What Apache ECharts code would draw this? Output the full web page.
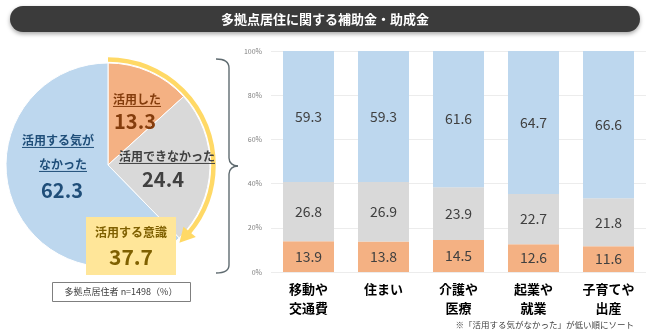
<!DOCTYPE html>
<html>
<head>
<meta charset="utf-8">
<script src="https://cdn.jsdelivr.net/npm/echarts@6/dist/echarts.min.js"></script>
<style>
  html, body { margin: 0; padding: 0; background: #fff; }
  #chart { width: 650px; height: 333px; }
</style>
</head>
<body>
<div id="chart"></div>
<script>
// 多拠点居住者の補助金・助成金の活用状況
const titleText = '多拠点居住に関する補助金・助成金';
const pieNames = ['活用した', '活用できなかった', '活用する気がなかった'];
const pieValues = [13.3, 24.4, 62.3];
const intentLabel = '活用する意識';
const sampleNote = '多拠点居住者 n=1498（%）';

const categories = ['移動や\n交通費', '住まい', '介護や\n医療', '起業や\n就業', '子育てや\n出産'];
const usedValues = [13.9, 13.8, 14.5, 12.6, 11.6];
const couldNotValues = [26.8, 26.9, 23.9, 22.7, 21.8];
const noIntentValues = [59.3, 59.3, 61.6, 64.7, 66.6];
const yTickValues = [0, 20, 40, 60, 80, 100];
const footnote = '※「活用する気がなかった」が低い順にソート';

const FONT = '"Noto Sans CJK JP", "Noto Sans", sans-serif';
const C_ORANGE = '#F4B183', C_GRAY = '#D9D9D9', C_BLUE = '#BDD7EE';
const T_ORANGE = '#843C0C', T_GRAY = '#404040', T_BLUE = '#1F4E79', T_YELLOW = '#7F6000';

const pieCx = 108, pieCy = 165, pieR = 102;

const measureCtx = document.createElement('canvas').getContext('2d');
function textWidth(str, font) { measureCtx.font = font; return measureCtx.measureText(str).width; }

const graphics = [];

// title bar
graphics.push({
  type: 'rect', shape: { x: 10, y: 6, width: 630, height: 26, r: 13 },
  style: { fill: '#3b3b3b', shadowBlur: 4, shadowOffsetY: 2, shadowColor: 'rgba(0,0,0,0.35)' }, z: 10
});
graphics.push({
  type: 'text', z: 11,
  style: { text: titleText, x: 325, y: 19, textAlign: 'center', textVerticalAlign: 'middle',
           font: 'bold 13px ' + FONT, fill: '#fff' }
});

// underlined caption helper
function caption(str, x, y, color, size) {
  const font = 'bold ' + size + 'px ' + FONT;
  const w = textWidth(str, font);
  graphics.push({ type: 'text', z: 20,
    style: { text: str, x: x, y: y, textAlign: 'center', textVerticalAlign: 'middle', font: font, fill: color } });
  graphics.push({ type: 'line', z: 20,
    shape: { x1: x - w / 2, y1: y + size * 0.62, x2: x + w / 2, y2: y + size * 0.62 },
    style: { stroke: color, lineWidth: 1 } });
}
function bigNumber(val, x, y, color, size) {
  graphics.push({ type: 'text', z: 20,
    style: { text: val.toFixed(1), x: x, y: y, textAlign: 'center', textVerticalAlign: 'middle',
             font: 'bold ' + size + 'px ' + FONT, fill: color } });
}

caption(pieNames[0], 137, 99, T_ORANGE, 12);
bigNumber(pieValues[0], 135, 121, T_ORANGE, 20);
caption(pieNames[1], 167, 156, T_GRAY, 12);
bigNumber(pieValues[1], 163, 179, T_GRAY, 20);
caption(pieNames[2].slice(0, 6), 58, 140, T_BLUE, 12);
caption(pieNames[2].slice(6), 63, 164, T_BLUE, 12);
bigNumber(pieValues[2], 62, 190, T_BLUE, 20);

// arc with arrow spanning the "intent" share
const intentValue = pieValues[0] + pieValues[1];
const total = pieValues.reduce((a, b) => a + b, 0);
const arcR = 105.5;
const a0 = -Math.PI / 2;
const aTip = a0 + 2 * Math.PI * intentValue / total + 0.03;
const arrowLen = 15, arrowHalf = 8;
const aBase = aTip - arrowLen / arcR;
graphics.push({ type: 'arc', z: 15,
  shape: { cx: pieCx, cy: pieCy, r: arcR, startAngle: a0, endAngle: aBase + 0.01, clockwise: true },
  style: { stroke: '#FFD966', lineWidth: 4.5, fill: null } });
const tipX = pieCx + arcR * Math.cos(aTip), tipY = pieCy + arcR * Math.sin(aTip);
const bx = pieCx + arcR * Math.cos(aBase), by = pieCy + arcR * Math.sin(aBase);
const rx = Math.cos(aBase), ry = Math.sin(aBase);
graphics.push({ type: 'polygon', z: 15,
  shape: { points: [[tipX, tipY], [bx + rx * arrowHalf, by + ry * arrowHalf], [bx - rx * arrowHalf, by - ry * arrowHalf]] },
  style: { fill: '#FFD966' } });

// intent box
graphics.push({ type: 'rect', z: 18, shape: { x: 86, y: 217, width: 90, height: 58 }, style: { fill: '#FFE699' } });
graphics.push({ type: 'text', z: 19,
  style: { text: intentLabel, x: 131, y: 232, textAlign: 'center', textVerticalAlign: 'middle',
           font: 'bold 12px ' + FONT, fill: T_YELLOW } });
bigNumber(intentValue, 131, 257, T_YELLOW, 21);

// sample note
graphics.push({ type: 'rect', z: 18, shape: { x: 52.5, y: 282.5, width: 138, height: 19 },
  style: { fill: '#fff', stroke: '#7f7f7f', lineWidth: 1 } });
graphics.push({ type: 'text', z: 19,
  style: { text: sampleNote, x: 121, y: 292, textAlign: 'center', textVerticalAlign: 'middle',
           font: '9px ' + FONT, fill: '#404040' } });

// brace
const braceStyle = { stroke: '#5f6b70', lineWidth: 1.4, fill: null };
const bxL = 229;
graphics.push({ type: 'bezierCurve', z: 15, shape: { x1: 216, y1: 59, cpx1: 224, cpy1: 59, cpx2: bxL, cpy2: 62, x2: bxL, y2: 68 }, style: braceStyle });
graphics.push({ type: 'line', z: 15, shape: { x1: bxL, y1: 68, x2: bxL, y2: 158 }, style: braceStyle });
graphics.push({ type: 'bezierCurve', z: 15, shape: { x1: bxL, y1: 158, cpx1: bxL, cpy1: 163, cpx2: 233, cpy2: 166, x2: 238, y2: 166 }, style: braceStyle });
graphics.push({ type: 'bezierCurve', z: 15, shape: { x1: 238, y1: 166, cpx1: 233, cpy1: 166, cpx2: bxL, cpy2: 169, x2: bxL, y2: 174 }, style: braceStyle });
graphics.push({ type: 'line', z: 15, shape: { x1: bxL, y1: 174, x2: bxL, y2: 265 }, style: braceStyle });
graphics.push({ type: 'bezierCurve', z: 15, shape: { x1: bxL, y1: 265, cpx1: bxL, cpy1: 271, cpx2: 224, cpy2: 273, x2: 216, y2: 273 }, style: braceStyle });

// footnote
graphics.push({ type: 'text', z: 19,
  style: { text: footnote, x: 634, y: 325, textAlign: 'right', textVerticalAlign: 'middle',
           font: '8.5px ' + FONT, fill: '#404040' } });

const barLabel = { show: true, position: 'inside', color: '#404040', fontSize: 14, fontFamily: FONT,
                   formatter: p => p.value.toFixed(1) };

const chart = echarts.init(document.getElementById('chart'), null, { renderer: 'canvas' });
chart.setOption({
  animation: false,
  backgroundColor: '#fff',
  textStyle: { fontFamily: FONT },
  grid: { left: 271, right: 4, top: 51, bottom: 61 },
  xAxis: {
    type: 'category', data: categories,
    axisLine: { show: false }, axisTick: { show: false },
    axisLabel: { fontSize: 13, fontWeight: 'bold', color: '#000', lineHeight: 19, margin: 8, fontFamily: FONT }
  },
  yAxis: {
    type: 'value', min: yTickValues[0], max: yTickValues[yTickValues.length - 1], interval: 20,
    axisLabel: { formatter: '{value}%', fontSize: 7, color: '#7f7f7f', margin: 9 },
    axisLine: { show: false }, axisTick: { show: false },
    splitLine: { lineStyle: { color: '#ececec' } }
  },
  series: [
    { type: 'pie', center: [pieCx, pieCy], radius: pieR, startAngle: 90, clockwise: true,
      silent: true, label: { show: false }, labelLine: { show: false },
      itemStyle: { borderColor: '#fff', borderWidth: 1 },
      data: pieNames.map((n, i) => ({ name: n, value: pieValues[i], itemStyle: { color: [C_ORANGE, C_GRAY, C_BLUE][i] } })) },
    { type: 'bar', stack: 'total', data: usedValues, barWidth: 51, itemStyle: { color: C_ORANGE }, label: barLabel },
    { type: 'bar', stack: 'total', data: couldNotValues, barWidth: 51, itemStyle: { color: C_GRAY }, label: barLabel },
    { type: 'bar', stack: 'total', data: noIntentValues, barWidth: 51, itemStyle: { color: C_BLUE }, label: barLabel }
  ],
  graphic: { elements: graphics }
});
</script>
</body>
</html>
